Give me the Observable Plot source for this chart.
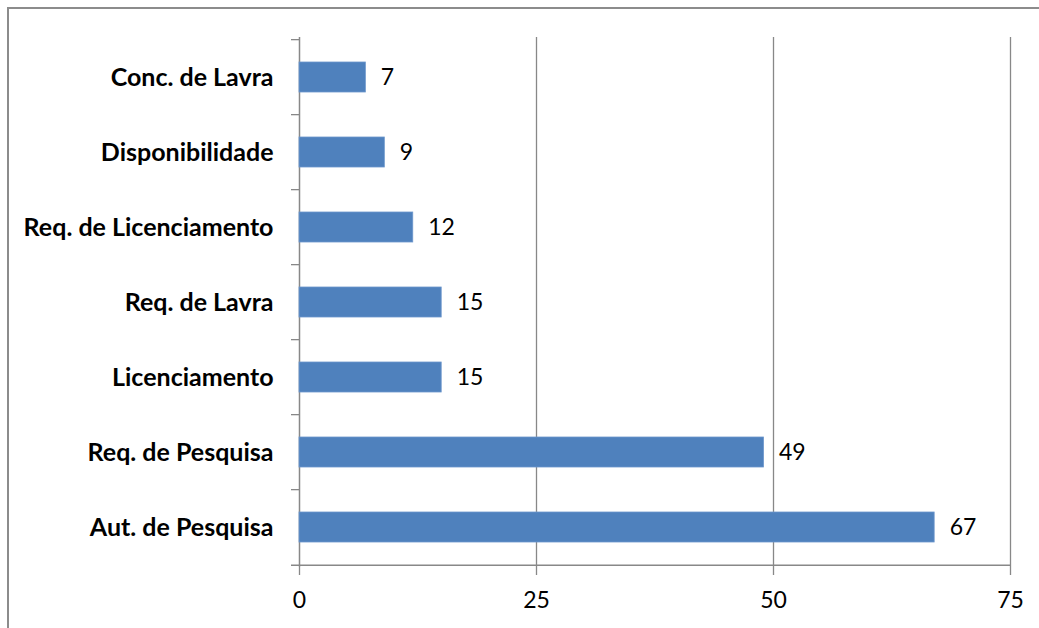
<!DOCTYPE html>
<html>
<head>
<meta charset="utf-8">
<script src="https://cdn.jsdelivr.net/npm/d3@7"></script>
<script src="https://cdn.jsdelivr.net/npm/@observablehq/plot@0.6"></script>
<style>
  html, body { margin: 0; padding: 0; background: #fff; overflow: hidden; }
  #wrap { position: relative; width: 1039px; height: 628px; }
  #border { position: absolute; left: 7px; top: 7px; width: 1100px; height: 700px; border-left: 2px solid #8c8c8c; border-top: 2px solid #8c8c8c; box-sizing: border-box; pointer-events: none; }
  #chart { position: absolute; left: 0; top: 0; }
</style>
</head>
<body>
<div id="wrap"><div id="chart"></div><div id="border"></div></div>
<script>
const categories = ["Conc. de Lavra", "Disponibilidade", "Req. de Licenciamento", "Req. de Lavra", "Licenciamento", "Req. de Pesquisa", "Aut. de Pesquisa"];
const values = [7, 9, 12, 15, 15, 49, 67];
const xTicks = [0, 25, 50, 75];

const data = categories.map((c, i) => ({cat: c, value: values[i]}));
const W = 1039, H = 628, mL = 299, mR = 29, mT = 37, mB = 61;
const step = (H - mT - mB) / categories.length;
const plotW = W - mL - mR;
const gray = "#888888";
const font = "Lato, 'Open Sans', sans-serif";

const chart = Plot.plot({
  width: W,
  height: H,
  marginLeft: mL,
  marginRight: mR,
  marginTop: mT,
  marginBottom: mB,
  style: {fontFamily: font, color: "#000", background: "transparent"},
  x: {domain: [0, 75]},
  y: {domain: categories, paddingInner: 0.6, paddingOuter: 0.3, axis: null},
  marks: [
    Plot.ruleX(xTicks.slice(1), {stroke: gray, strokeWidth: 1.3}),
    Plot.ruleX([0], {stroke: gray, strokeWidth: 1.5}),
    Plot.tickY(categories, {y: d => d, dy: -step / 2, stroke: gray, strokeWidth: 1.3, insetLeft: -8, insetRight: plotW}),
    Plot.tickY(categories.slice(-1), {y: d => d, dy: step / 2, stroke: gray, strokeWidth: 1.5, insetLeft: -8, insetRight: 0}),
    Plot.axisX({ticks: xTicks, tickSize: 8, tickPadding: 16, stroke: gray, strokeWidth: 1.3, fontSize: 23, label: null, tickFormat: d => d}),
    Plot.barX(data, {x: "value", y: "cat", fill: "#4F81BD", stroke: "#6d97cc", strokeWidth: 0.8}),
    Plot.text(data, {x: "value", y: "cat", text: d => String(d.value), dx: 15, textAnchor: "start", fontSize: 23, fill: "#000"}),
    Plot.text(categories, {y: d => d, frameAnchor: "left", dx: -26, textAnchor: "end", fontSize: 25, fontWeight: "bold", fill: "#000"})
  ]
});
document.getElementById("chart").appendChild(chart);
</script>
</body>
</html>
